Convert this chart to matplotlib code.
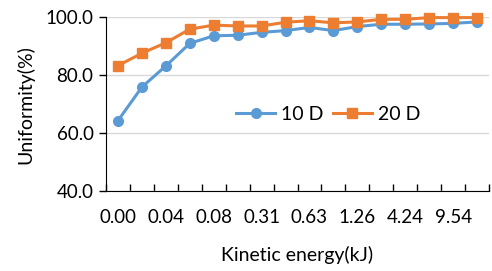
import matplotlib.pyplot as plt
import numpy as np

plt.rcParams["font.family"] = ["Lato", "DejaVu Sans"]

# every other category is labelled on the axis
tick_labels = ["0.00", "0.04", "0.08", "0.31", "0.63", "1.26", "4.24", "9.54"]
u_10d = [64.3, 75.9, 83.2, 91.0, 93.6, 93.8, 94.8, 95.4,
         96.5, 95.4, 96.8, 97.6, 97.6, 97.7, 97.9, 98.4]
u_20d = [83.3, 87.6, 91.2, 95.9, 97.3, 97.0, 97.0, 98.3,
         98.8, 98.1, 98.4, 99.3, 99.3, 99.9, 99.9, 99.9]


def main():
    fig = plt.figure(figsize=(4.92, 2.71), dpi=100)
    ax = fig.add_axes([106 / 492, 1 - 191 / 271, (489 - 106) / 492, (191 - 17.3) / 271])

    x = np.arange(len(u_10d))
    ax.plot(x, u_10d, color="#5B9BD5", marker="o", markersize=7, linewidth=2.2, label="10 D", clip_on=False)
    ax.plot(x, u_20d, color="#ED7D31", marker="s", markersize=7, linewidth=2.2, label="20 D", clip_on=False)

    ax.set_xlim(-0.5, len(u_10d) - 0.5)
    ax.set_ylim(40, 100)
    ax.set_yticks([40, 60, 80, 100])
    ax.set_yticklabels(["40.0", "60.0", "80.0", "100.0"])
    ax.set_xticks(x[::2])
    ax.set_xticklabels(tick_labels)
    ax.set_xticks(np.arange(len(u_10d) + 1) - 0.5, minor=True)
    ax.tick_params(axis="x", which="major", length=0, pad=13, labelsize=13.5)
    ax.tick_params(axis="x", which="minor", length=5, direction="in", width=1)
    ax.tick_params(axis="y", length=5, width=1, direction="out", labelsize=13.5, pad=4)

    ax.grid(axis="y", color="#D9D9D9", linewidth=1)
    ax.set_axisbelow(True)
    for s in ["top", "right"]:
        ax.spines[s].set_visible(False)
    ax.spines["left"].set_color("black")
    ax.spines["bottom"].set_color("black")

    ax.set_xlabel("Kinetic energy(kJ)", fontsize=14, labelpad=14)
    ax.set_ylabel("Uniformity(%)", fontsize=14, labelpad=8)
    ax.legend(loc="center", bbox_to_anchor=(0.58, 0.44), ncol=2, frameon=False, fontsize=14,
              handlelength=2.0, columnspacing=0.5, handletextpad=0.3)

    fig.savefig("out.png", dpi=100)


if __name__ == '__main__':
    main()
